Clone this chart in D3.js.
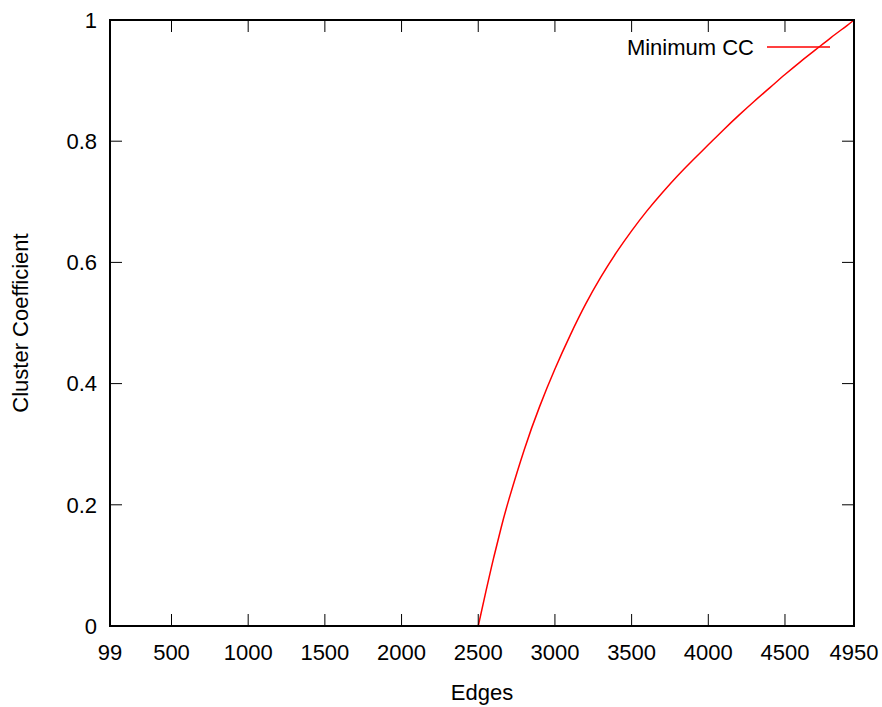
<!DOCTYPE html>
<html>
<head>
<meta charset="utf-8">
<script src="https://cdn.jsdelivr.net/npm/d3@7"></script>
<style>
  html, body { margin: 0; padding: 0; background: #fff; }
  text { font-family: "Liberation Sans", Arial, sans-serif; }
</style>
</head>
<body>
<svg id="chart" width="882" height="707"></svg>
<script>
const edges = [99, 2500, 2550, 2600, 2650, 2700, 2800, 2900, 3000, 3100, 3200, 3300, 3400, 3500, 3600, 3700, 3800, 3900, 4000, 4100, 4200, 4300, 4400, 4500, 4600, 4700, 4800, 4900, 4950];
const minCC = [0, 0, 0.057, 0.112, 0.163, 0.209, 0.291, 0.362, 0.424, 0.480, 0.531, 0.576, 0.616, 0.652, 0.685, 0.715, 0.743, 0.769, 0.794, 0.819, 0.843, 0.866, 0.888, 0.910, 0.931, 0.951, 0.971, 0.990, 1.0];
const xTicks = [99, 500, 1000, 1500, 2000, 2500, 3000, 3500, 4000, 4500, 4950];
const yTicks = [0, 0.2, 0.4, 0.6, 0.8, 1];
const seriesName = "Minimum CC";
const xTitle = "Edges";
const yTitle = "Cluster Coefficient";

const svg = d3.select("#chart");
const L = 110, R = 854, T = 20, B = 626;
const x = d3.scaleLinear().domain([99, 4950]).range([L, R]);
const y = d3.scaleLinear().domain([0, 1]).range([B, T]);
const fs = 22;
const tickLen = 12;

const data = edges.map((e, i) => ({ e, v: minCC[i] }));
const flat = data.filter(d => d.e <= 2500);
const rising = data.filter(d => d.e >= 2500);

const line = d3.line().x(d => x(d.e)).y(d => y(d.v));
// curve
svg.append("path")
  .datum(flat)
  .attr("fill", "none")
  .attr("stroke", "#ff0000")
  .attr("stroke-width", 1.5)
  .attr("d", line);
svg.append("path")
  .datum(rising)
  .attr("fill", "none")
  .attr("stroke", "#ff0000")
  .attr("stroke-width", 1.5)
  .attr("d", line.curve(d3.curveNatural));

// ticks (mirrored, inward)
const tg = svg.append("g").attr("stroke", "#000").attr("stroke-width", 1);
xTicks.forEach(t => {
  tg.append("line").attr("x1", x(t)).attr("x2", x(t)).attr("y1", B).attr("y2", B - tickLen);
  tg.append("line").attr("x1", x(t)).attr("x2", x(t)).attr("y1", T).attr("y2", T + tickLen);
});
yTicks.forEach(t => {
  tg.append("line").attr("x1", L).attr("x2", L + tickLen).attr("y1", y(t)).attr("y2", y(t));
  tg.append("line").attr("x1", R).attr("x2", R - tickLen).attr("y1", y(t)).attr("y2", y(t));
});

// border
svg.append("rect")
  .attr("x", L).attr("y", T).attr("width", R - L).attr("height", B - T)
  .attr("fill", "none").attr("stroke", "#000").attr("stroke-width", 2);

// tick labels
svg.append("g").selectAll("text").data(xTicks).join("text")
  .attr("x", d => x(d)).attr("y", B + 26)
  .attr("dy", "0.35em")
  .attr("text-anchor", "middle")
  .attr("font-size", fs)
  .text(d => d);
svg.append("g").selectAll("text").data(yTicks).join("text")
  .attr("x", L - 13).attr("y", d => y(d))
  .attr("dy", "0.35em")
  .attr("text-anchor", "end")
  .attr("font-size", fs)
  .text(d => d);

// axis titles
svg.append("text").attr("x", 482).attr("y", 692).attr("dy", "0.35em")
  .attr("text-anchor", "middle").attr("font-size", fs).text(xTitle);
svg.append("text").attr("transform", "translate(20,323) rotate(-90)")
  .attr("dy", "0.35em").attr("text-anchor", "middle").attr("font-size", fs).text(yTitle);

// legend
svg.append("text").attr("x", 754).attr("y", 47).attr("dy", "0.35em")
  .attr("text-anchor", "end").attr("font-size", fs).text(seriesName);
svg.append("line").attr("x1", 767).attr("x2", 830).attr("y1", 47).attr("y2", 47)
  .attr("stroke", "#ff0000").attr("stroke-width", 1.5);
</script>
</body>
</html>
